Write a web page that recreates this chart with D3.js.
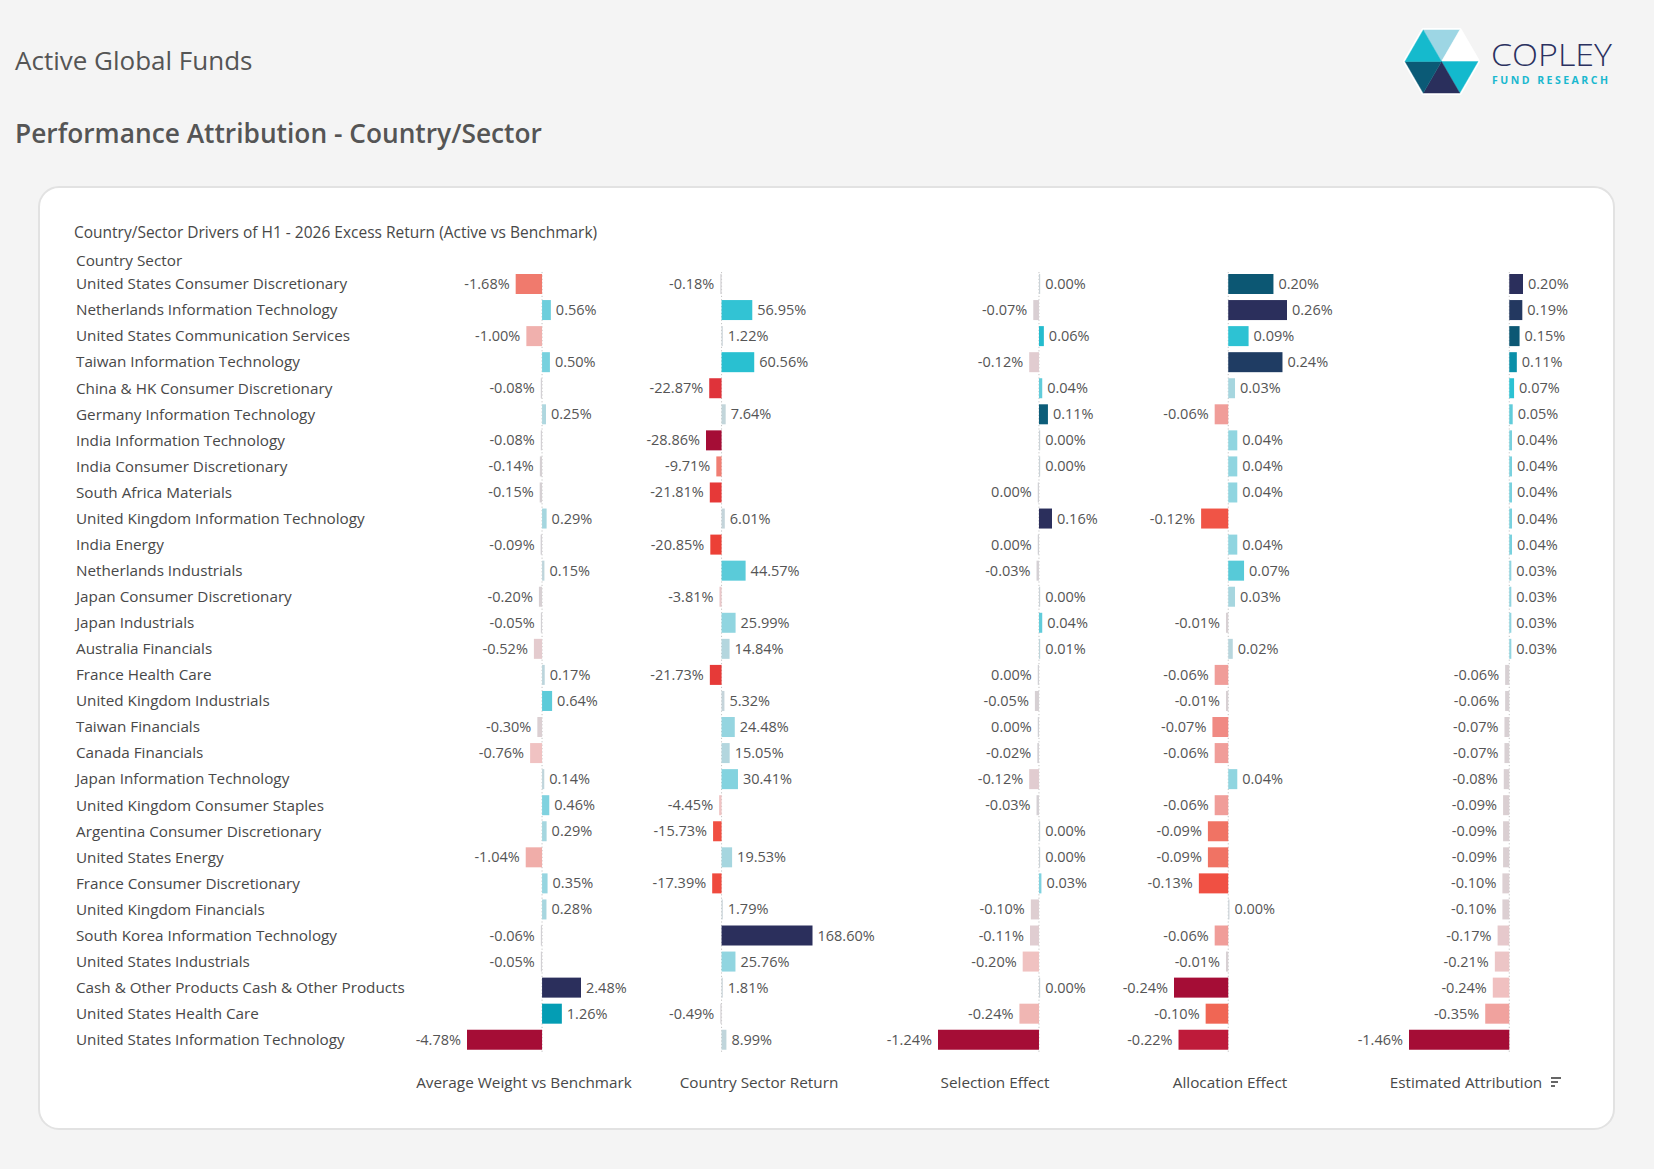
<!DOCTYPE html>
<html>
<head>
<meta charset="utf-8">
<script src="https://cdn.jsdelivr.net/npm/d3@7/dist/d3.min.js"></script>
<style>
  html, body { margin: 0; padding: 0; background: #f4f4f4; }
  svg { display: block; font-family: "Open Sans", "Noto Sans", sans-serif; }
</style>
</head>
<body>
<svg id="chart" width="1654" height="1169"></svg>
<script>
// ---------------- DATA ----------------
const countrySectors = [
  "United States Consumer Discretionary",
  "Netherlands Information Technology",
  "United States Communication Services",
  "Taiwan Information Technology",
  "China & HK Consumer Discretionary",
  "Germany Information Technology",
  "India Information Technology",
  "India Consumer Discretionary",
  "South Africa Materials",
  "United Kingdom Information Technology",
  "India Energy",
  "Netherlands Industrials",
  "Japan Consumer Discretionary",
  "Japan Industrials",
  "Australia Financials",
  "France Health Care",
  "United Kingdom Industrials",
  "Taiwan Financials",
  "Canada Financials",
  "Japan Information Technology",
  "United Kingdom Consumer Staples",
  "Argentina Consumer Discretionary",
  "United States Energy",
  "France Consumer Discretionary",
  "United Kingdom Financials",
  "South Korea Information Technology",
  "United States Industrials",
  "Cash & Other Products Cash & Other Products",
  "United States Health Care",
  "United States Information Technology"
];
const avgWeightVsBenchmark = [-1.68, 0.56, -1.00, 0.50, -0.08, 0.25, -0.08, -0.14, -0.15, 0.29,
  -0.09, 0.15, -0.20, -0.05, -0.52, 0.17, 0.64, -0.30, -0.76, 0.14,
  0.46, 0.29, -1.04, 0.35, 0.28, -0.06, -0.05, 2.48, 1.26, -4.78];
const countrySectorReturn = [-0.18, 56.95, 1.22, 60.56, -22.87, 7.64, -28.86, -9.71, -21.81, 6.01,
  -20.85, 44.57, -3.81, 25.99, 14.84, -21.73, 5.32, 24.48, 15.05, 30.41,
  -4.45, -15.73, 19.53, -17.39, 1.79, 168.60, 25.76, 1.81, -0.49, 8.99];
const selectionEffect = [0.00, -0.07, 0.06, -0.12, 0.04, 0.11, 0.00, 0.00, -0.002, 0.16,
  -0.002, -0.03, 0.00, 0.04, 0.01, -0.002, -0.05, -0.002, -0.02, -0.12,
  -0.03, 0.00, 0.00, 0.03, -0.10, -0.11, -0.20, 0.00, -0.24, -1.24];
const allocationEffect = [0.20, 0.26, 0.09, 0.24, 0.03, -0.06, 0.04, 0.04, 0.04, -0.12,
  0.04, 0.07, 0.03, -0.01, 0.02, -0.06, -0.01, -0.07, -0.06, 0.04,
  -0.06, -0.09, -0.09, -0.13, 0.00, -0.06, -0.01, -0.24, -0.10, -0.22];
const estimatedAttribution = [0.20, 0.19, 0.15, 0.11, 0.07, 0.05, 0.04, 0.04, 0.04, 0.04,
  0.04, 0.03, 0.03, 0.03, 0.03, -0.06, -0.06, -0.07, -0.07, -0.08,
  -0.09, -0.09, -0.09, -0.10, -0.10, -0.17, -0.21, -0.24, -0.35, -1.46];
const measureTitles = ["Average Weight vs Benchmark", "Country Sector Return", "Selection Effect",
  "Allocation Effect", "Estimated Attribution"];

// ---------------- LAYOUT / STYLE ----------------
const measures = [avgWeightVsBenchmark, countrySectorReturn, selectionEffect, allocationEffect, estimatedAttribution];
const paneRanges = [[467, 581], [706, 812.5], [938, 1052], [1174, 1287], [1409, 1523]];
const titleCenters = [524, 759, 995, 1230, 1466];
const rowTop = 284, rowBottom = 284 + 29 * 26.06, barH = 20;
const textColor = "#555555";
const labelColor = "#484848";

// diverging colour ramps (fraction of column extreme on each side)
const posRamp = d3.scaleLinear()
  .domain([0, 0.06, 0.1, 0.15, 0.2, 0.26, 0.35, 0.5, 0.55, 0.69, 0.77, 0.92, 1])
  .range(["#cbd3d8", "#bfd5db", "#afd7df", "#92d5e0", "#79d1de", "#5ccbd9", "#2bc2d3", "#03a0b6",
          "#0a8fa8", "#0c5c78", "#0c5773", "#1f3d63", "#2b2f5c"])
  .clamp(true);
const negRamp = d3.scaleLinear()
  .domain([0, 0.05, 0.1, 0.16, 0.22, 0.29, 0.35, 0.42, 0.5, 0.6, 0.72, 0.79, 0.92, 1])
  .range(["#d0d0d4", "#d8d0d3", "#e2ccd0", "#f0c2c2", "#f0aca8", "#f08a84", "#f07a6e", "#f06553",
          "#f05446", "#ef4a3e", "#ec4036", "#e0333a", "#bd1a3a", "#a50d36"])
  .clamp(true);

const fmt = v => ((v < 0 && Math.round(Math.abs(v) * 100) > 0) ? "-" : "") + Math.abs(v).toFixed(2) + "%";

const svg = d3.select("#chart");

// background
svg.append("rect").attr("width", 1654).attr("height", 1169).attr("fill", "#f4f4f4");

// headings
svg.append("text").attr("x", 15).attr("y", 70)
  .attr("font-size", 26).attr("fill", textColor).text("Active Global Funds");
svg.append("text").attr("x", 15).attr("y", 143)
  .attr("font-size", 26.3).attr("font-weight", 600).attr("fill", textColor)
  .text("Performance Attribution - Country/Sector");

// logo
const logo = svg.append("g");
const cx = 1441.5, cy = 61.5, r = 36.5, hh = r * Math.sqrt(3) / 2;
const V = {
  R: [cx + r, cy], BR: [cx + r / 2, cy + hh], BL: [cx - r / 2, cy + hh],
  L: [cx - r, cy], TL: [cx - r / 2, cy - hh], TR: [cx + r / 2, cy - hh]
};
logo.append("polygon")
  .attr("points", [V.R, V.BR, V.BL, V.L, V.TL, V.TR].map(p => p.join(",")).join(" "))
  .attr("fill", "#ffffff").attr("stroke", "#ffffff").attr("stroke-width", 4).attr("stroke-linejoin", "round");
const tris = [
  [V.TL, V.TR, "#9dd6e4"], [V.TR, V.R, "#ffffff"], [V.R, V.BR, "#13b9cd"],
  [V.BR, V.BL, "#2a2f5c"], [V.BL, V.L, "#0b5a76"], [V.L, V.TL, "#15bacd"]
];
tris.forEach(t => {
  logo.append("polygon")
    .attr("points", [[cx, cy], t[0], t[1]].map(p => p.join(",")).join(" "))
    .attr("fill", t[2]).attr("stroke", t[2]).attr("stroke-width", 0.4);
});
logo.append("text").attr("x", 1491).attr("y", 66)
  .attr("font-size", 32).attr("font-weight", 300).attr("fill", "#2b3160")
  .attr("textLength", 121).attr("lengthAdjust", "spacingAndGlyphs").text("COPLEY");
logo.append("text").attr("x", 1492).attr("y", 84)
  .attr("font-size", 10.5).attr("font-weight", 700).attr("fill", "#1ab8cf")
  .attr("textLength", 116).attr("lengthAdjust", "spacing").text("FUND RESEARCH");

// card
svg.append("rect").attr("x", 39).attr("y", 187).attr("width", 1575).attr("height", 942)
  .attr("rx", 20).attr("ry", 20).attr("fill", "#ffffff").attr("stroke", "#e2e2e2").attr("stroke-width", 2);

svg.append("text").attr("x", 74).attr("y", 237.5)
  .attr("font-size", 15.5).attr("fill", labelColor)
  .text("Country/Sector Drivers of H1 - 2026 Excess Return (Active vs Benchmark)");
svg.append("text").attr("x", 76).attr("y", 266)
  .attr("font-size", 15.3).attr("fill", labelColor).text("Country Sector");

// rows
const y = d3.scalePoint().domain(countrySectors).range([rowTop, rowBottom]);

svg.append("g").selectAll("text").data(countrySectors).join("text")
  .attr("x", 76).attr("y", d => y(d) + 5.3)
  .attr("font-size", 15.25).attr("fill", labelColor).text(d => d);

// columns
measures.forEach((vals, ci) => {
  const x = d3.scaleLinear().domain(d3.extent(vals)).range(paneRanges[ci]);
  const minV = d3.min(vals), maxV = d3.max(vals);
  const color = v => v >= 0 ? posRamp(maxV > 0 ? v / maxV : 0) : negRamp(minV < 0 ? v / minV : 0);
  const g = svg.append("g");
  const x0 = x(0);

  g.append("line").attr("x1", x0).attr("x2", x0).attr("y1", 272).attr("y2", 1052)
    .attr("stroke", "#c4c4c4").attr("stroke-width", 1).attr("stroke-dasharray", "1.2,2.2");

  const rows = countrySectors.map((name, i) => ({ name, v: vals[i] }));
  g.selectAll("rect").data(rows).join("rect")
    .attr("x", d => {
      const w = Math.max(1.2, Math.abs(x(d.v) - x0));
      return d.v >= 0 ? x0 : x0 - w;
    })
    .attr("y", d => y(d.name) - barH / 2)
    .attr("width", d => Math.max(1.2, Math.abs(x(d.v) - x0)))
    .attr("height", barH)
    .attr("fill", d => color(d.v));

  g.selectAll("text.val").data(rows).join("text")
    .attr("class", "val")
    .attr("x", d => d.v >= 0 ? Math.max(x(d.v), x0 + 1.2) + 5 : Math.min(x(d.v), x0 - 1.2) - 6)
    .attr("y", d => y(d.name) + 5)
    .attr("text-anchor", d => d.v >= 0 ? "start" : "end")
    .attr("font-size", 14.5).attr("fill", textColor)
    .text(d => fmt(d.v));

  g.append("text").attr("x", titleCenters[ci]).attr("y", 1088)
    .attr("text-anchor", "middle").attr("font-size", 15.3).attr("fill", labelColor)
    .text(measureTitles[ci]);
});

// sort indicator next to the last column title
const sortIcon = svg.append("g").attr("stroke", "#555555").attr("stroke-width", 1.8);
[[10, 1078], [7, 1082], [4, 1086]].forEach(([w, yy]) => {
  sortIcon.append("line").attr("x1", 1551).attr("x2", 1551 + w).attr("y1", yy).attr("y2", yy);
});
</script>
</body>
</html>
